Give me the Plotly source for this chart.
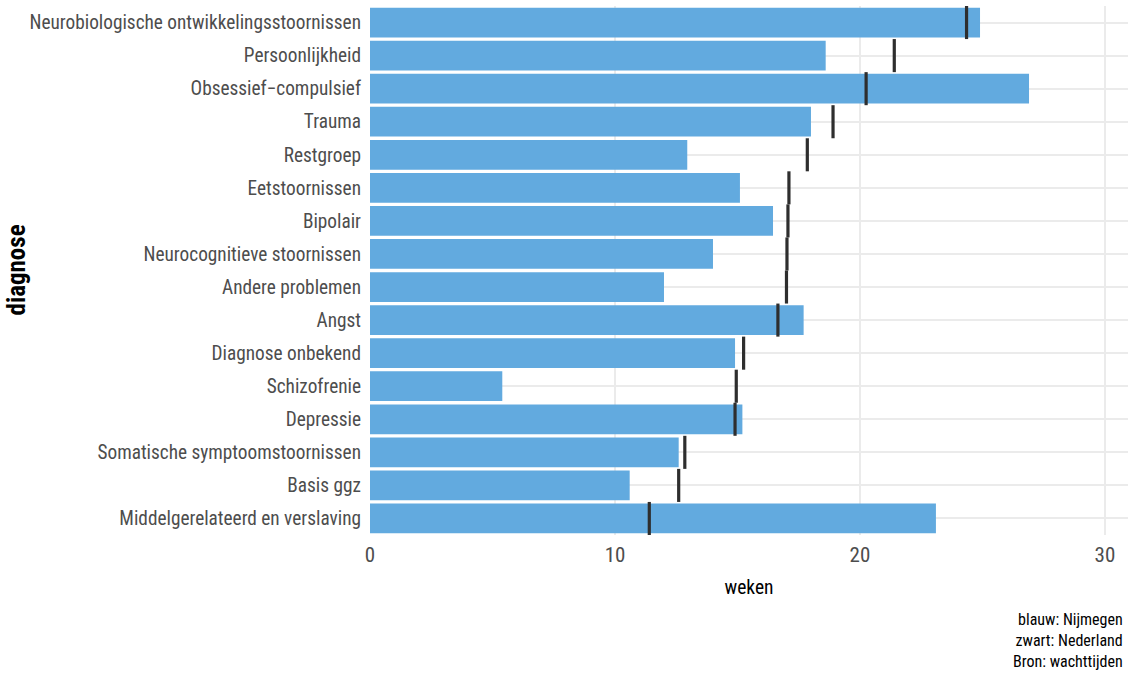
import plotly.graph_objects as go

diagnoses = [
    "Neurobiologische ontwikkelingsstoornissen",
    "Persoonlijkheid",
    "Obsessief\u2212compulsief",
    "Trauma",
    "Restgroep",
    "Eetstoornissen",
    "Bipolair",
    "Neurocognitieve stoornissen",
    "Andere problemen",
    "Angst",
    "Diagnose onbekend",
    "Schizofrenie",
    "Depressie",
    "Somatische symptoomstoornissen",
    "Basis ggz",
    "Middelgerelateerd en verslaving",
]
nijmegen = [24.9, 18.6, 26.9, 18.0, 12.95, 15.1, 16.45, 14.0, 12.0, 17.7,
            14.9, 5.4, 15.2, 12.6, 10.6, 23.1]
nederland = [24.35, 21.4, 20.25, 18.9, 17.85, 17.1, 17.06, 17.02, 17.0, 16.65,
             15.25, 14.95, 14.9, 12.85, 12.6, 11.4]
x_ticks = [0, 10, 20, 30]

idx = list(range(len(diagnoses)))
NARROW = "Liberation Sans Narrow, Arial Narrow, Roboto Condensed, sans-serif"

fig = go.Figure()
fig.add_trace(go.Bar(
    x=nijmegen, y=idx, orientation="h", width=0.9,
    marker=dict(color="#62AADF", line=dict(width=0)),
    hoverinfo="x", showlegend=False,
))

seg_x, seg_y = [], []
for i, v in zip(idx, nederland):
    seg_x += [v, v, None]
    seg_y += [i - 0.5, i + 0.5, None]
fig.add_trace(go.Scatter(
    x=seg_x, y=seg_y, mode="lines",
    line=dict(color="#2E2E2E", width=3.2),
    hoverinfo="skip", showlegend=False,
))

fig.update_layout(
    width=1128, height=673,
    margin=dict(l=370, r=0, t=6, b=138),
    plot_bgcolor="white", paper_bgcolor="white",
    xaxis=dict(
        range=[0, 30.94], tickvals=x_ticks, ticktext=[str(t) for t in x_ticks],
        showgrid=True, gridcolor="#EBEBEB", gridwidth=2, zeroline=False,
        showline=False, ticks="", ticklabelstandoff=5,
        tickfont=dict(family=NARROW, size=21, color="#4D4D4D"),
        title=dict(text="weken", font=dict(family=NARROW, size=19.5, color="#000000"),
                   standoff=14),
    ),
    yaxis=dict(
        range=[15.5, -0.5], tickvals=idx, ticktext=diagnoses,
        showgrid=True, gridcolor="#EBEBEB", gridwidth=2, zeroline=False,
        showline=False, ticks="", ticklabelstandoff=8,
        tickfont=dict(family=NARROW, size=19.3, color="#4D4D4D"),
    ),
    annotations=[
        dict(text="<b>diagnose</b>", textangle=-90, xref="paper", yref="paper",
             x=-(370 - 16) / 758, y=0.5, xanchor="center", yanchor="middle",
             showarrow=False, font=dict(family=NARROW, size=25, color="#000000")),
        dict(text="blauw: Nijmegen<br>zwart: Nederland<br>Bron: wachttijden",
             xref="paper", yref="paper", x=1, y=0, xanchor="right", yanchor="top",
             xshift=-3, yshift=-73, align="right", showarrow=False,
             font=dict(family=NARROW, size=16, color="#000000")),
    ],
)

fig.write_html(
    "out.html",
    config={"displayModeBar": False},
    post_script="document.body.style.margin='0';document.body.style.overflow='hidden';",
)
